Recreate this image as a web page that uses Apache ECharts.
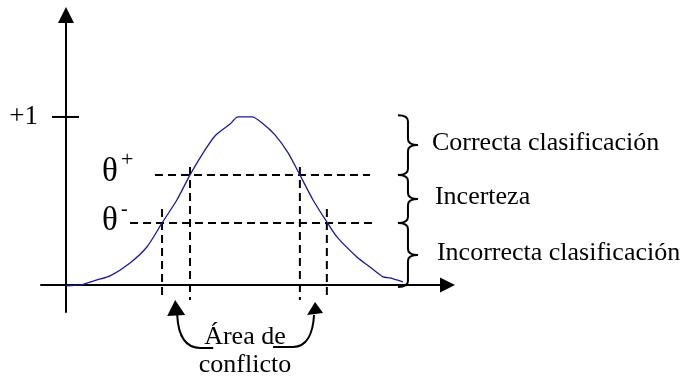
<!DOCTYPE html>
<html><head><meta charset="utf-8">
<script src="https://cdn.jsdelivr.net/npm/echarts@6/dist/echarts.min.js"></script>
<style>html,body{margin:0;padding:0;background:#fff}#c{width:688px;height:379px}</style>
</head><body><div id="c"></div>
<script>
// ---- data (diagram units: x along the axis, y = membership degree) ----
const curveX = [0, 0.42, 0.92, 1.31, 1.90, 2.40, 2.85, 3.29, 3.68, 4.07, 4.42, 4.87, 5.10, 5.52, 5.82, 6.20, 6.59, 6.94, 7.33, 7.74, 8.04, 8.63, 9.02, 9.41, 9.61, 10.0];
const curveY = [-0.005, 0.00, 0.03, 0.054, 0.131, 0.226, 0.369, 0.506, 0.655, 0.786, 0.887, 0.958, 1.0, 1.0, 0.964, 0.893, 0.786, 0.655, 0.506, 0.375, 0.286, 0.167, 0.107, 0.048, 0.042, 0.018];
const thetaPlus = 0.655;
const thetaMinus = 0.369;
const crossPlus = [3.68, 6.94];
const crossMinus = [2.85, 7.74];
const spanPlus = [2.64, 9.02];
const spanMinus = [1.90, 9.11];
const vTopPlus = 0.702;
const vTopMinus = 0.452;
const vBottom = -0.089;
const tickValue = 1;
const tickLabel = '+1';
const tickSpan = [-0.415, 0.386];
const thetaLabels = ['θ', '+', '-'];
const braceX = 9.85;
const braceRanges = [[thetaPlus, 1.01], [thetaMinus, thetaPlus], [-0.012, thetaMinus]];
const braceLabels = ['Correcta clasificación', 'Incerteza', 'Incorrecta clasificación'];
const conflictX = 5.31;
const conflictLabel = 'Área de\nconflicto';
const arrowTips = [[3.24, -0.089], [7.39, -0.101]];

const FONT = '"Liberation Serif","Times New Roman",serif';
const chart = echarts.init(document.getElementById('c'), null, {renderer: 'canvas'});

const dash = {color: '#000', width: 2, type: [8, 5]};
function seg(pts, style) {
  return {type: 'line', data: pts, symbol: 'none', clip: false, silent: true,
          lineStyle: style, animation: false, z: 3};
}
const series = [];
series.push({type: 'line', data: curveX.map((x, i) => [x, curveY[i]]), symbol: 'none',
  smooth: 0.25, clip: false, lineStyle: {color: '#1a1a9c', width: 1.3}, animation: false, z: 4});
series.push(seg([[spanPlus[0], thetaPlus], [spanPlus[1], thetaPlus]], dash));
series.push(seg([[spanMinus[0], thetaMinus], [spanMinus[1], thetaMinus]], dash));
crossPlus.forEach(x => series.push(seg([[x, vTopPlus], [x, vBottom]], dash)));
crossMinus.forEach(x => series.push(seg([[x, vTopMinus], [x, vBottom]], dash)));
series.push(seg([[tickSpan[0], tickValue], [tickSpan[1], tickValue]], {color: '#000', width: 2, type: 'solid'}));

series.push({
  type: 'custom', data: [[0, 0]], silent: true, animation: false, clip: false, z: 5,
  renderItem: function (params, api) {
    const ch = [];
    const txt = (text, x, y, size, align, extra) => ch.push({type: 'text', style: Object.assign({
      text, x, y, fill: '#000', fontFamily: FONT, fontSize: size, align, verticalAlign: 'middle'}, extra || {})});
    // +1 label
    const p1 = api.coord([0, tickValue]);
    txt(tickLabel, p1[0] - 28, p1[1], 27, 'right');
    // theta labels
    const tp = api.coord([0, thetaPlus]);
    const tm = api.coord([0, thetaMinus]);
    txt(thetaLabels[0], tp[0] + 36, tp[1] - 3, 33, 'left');
    txt(thetaLabels[1], tp[0] + 55, tp[1] - 15, 22, 'left');
    txt(thetaLabels[0], tm[0] + 36, tm[1] - 2, 33, 'left');
    txt(thetaLabels[2], tm[0] + 55, tm[1] - 13, 20, 'left');
    // braces + labels
    const offs = [34, 37, 39];
    braceRanges.forEach((r, i) => {
      const a = api.coord([braceX, r[1]]);
      const b = api.coord([braceX, r[0]]);
      const x0 = a[0], x1 = x0 + 10, x2 = x0 + 20;
      const yT = a[1], yB = b[1], yM = (yT + yB) / 2, rr = 6;
      const d = `M${x0},${yT} Q${x1},${yT} ${x1},${yT + rr} L${x1},${yM - rr} Q${x1},${yM} ${x2},${yM} ` +
                `Q${x1},${yM} ${x1},${yM + rr} L${x1},${yB - rr} Q${x1},${yB} ${x0},${yB}`;
      ch.push({type: 'path', shape: {pathData: d}, style: {stroke: '#000', lineWidth: 2, fill: null}});
      txt(braceLabels[i], x0 + offs[i], yM - 2, 26, 'left');
    });
    // conflict area label
    const c = api.coord([conflictX, -0.393]);
    txt(conflictLabel, c[0], c[1], 26, 'center', {lineHeight: 28});
    // curved arrows
    const L = api.coord(arrowTips[0]);
    ch.push({type: 'path', shape: {pathData:
      `M${L[0] + 2},${L[1] + 15} C${L[0] + 3},${L[1] + 35} ${L[0] + 10},${L[1] + 48} ${L[0] + 25},${L[1] + 48} L${L[0] + 38},${L[1] + 48}`},
      style: {stroke: '#000', lineWidth: 2, fill: null}});
    ch.push({type: 'polygon', shape: {points: [[L[0], L[1]], [L[0] - 8, L[1] + 16], [L[0] + 10, L[1] + 15]]},
      style: {fill: '#000'}});
    const R = api.coord(arrowTips[1]);
    ch.push({type: 'path', shape: {pathData:
      `M${R[0] - 1},${R[1] + 13} C${R[0] - 2},${R[1] + 31} ${R[0] - 8},${R[1] + 45} ${R[0] - 22},${R[1] + 45} L${R[0] - 42},${R[1] + 45}`},
      style: {stroke: '#000', lineWidth: 2, fill: null}});
    ch.push({type: 'polygon', shape: {points: [[R[0], R[1]], [R[0] - 8, R[1] + 13], [R[0] + 8, R[1] + 11]]},
      style: {fill: '#000'}});
    return {type: 'group', children: ch};
  }
});

chart.setOption({
  animation: false,
  backgroundColor: '#fff',
  grid: {left: 41, right: 240.5, top: 15, bottom: 67, containLabel: false},
  xAxis: {type: 'value', min: -0.742, max: 11.32,
    axisLine: {show: true, onZero: true, symbol: ['none', 'triangle'], symbolSize: [15, 15],
      lineStyle: {color: '#000', width: 2}},
    axisTick: {show: false}, axisLabel: {show: false}, splitLine: {show: false}},
  yAxis: {type: 'value', min: -0.161, max: 1.607,
    axisLine: {show: true, onZero: true, symbol: ['none', 'triangle'], symbolSize: [16, 16],
      lineStyle: {color: '#000', width: 2}},
    axisTick: {show: false}, axisLabel: {show: false}, splitLine: {show: false}},
  series: series
});
</script>
</body></html>
